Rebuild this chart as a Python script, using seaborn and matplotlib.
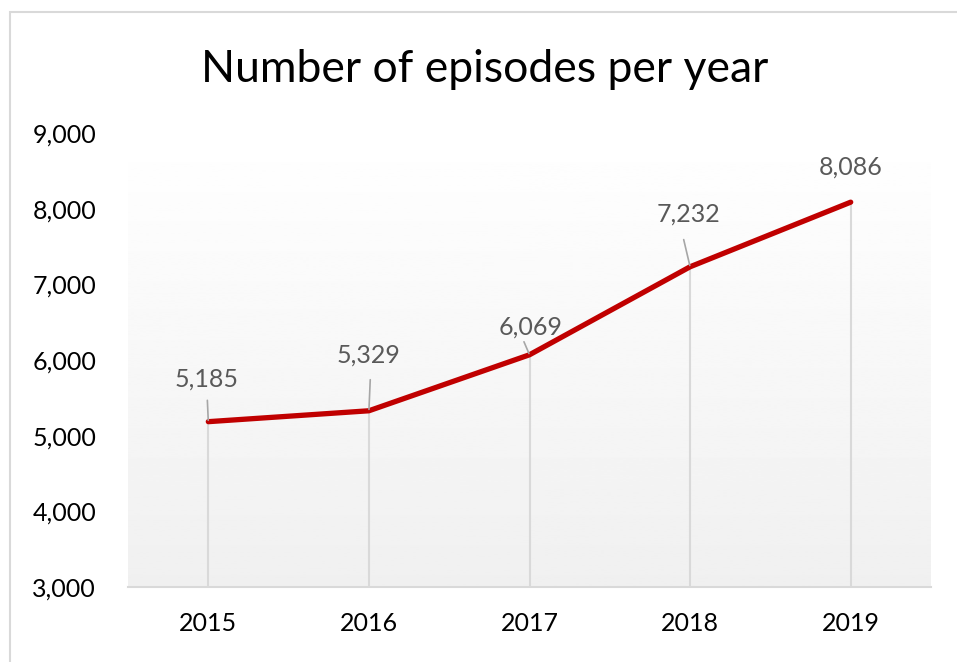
import seaborn as sns
import matplotlib.pyplot as plt
import matplotlib.patches as mpatches
import numpy as np
import pandas as pd

# data
years = ['2015', '2016', '2017', '2018', '2019']
episodes = [5185, 5329, 6069, 7232, 8086]
y_ticks = [3000, 4000, 5000, 6000, 7000, 8000, 9000]

# label offsets (points) relative to each point, leader start on the label and gap
label_offsets = [(-1, 31), (0, 40), (1, 20), (-1.5, 38), (0, 25)]
leader_relpos = [(0.5, 0), (0.53, 0), (0.37, 0), (0.38, 0), None]
leader_gap = [5, 7, 0, 8, 0]

sns.set_style('white')
plt.rcParams['font.family'] = ['Lato', 'DejaVu Sans']

df = pd.DataFrame({'pos': np.arange(len(years)), 'episodes': episodes})

fig = plt.figure(figsize=(9.57, 6.62), dpi=100)
ax = fig.add_axes([128 / 957, 1 - 587 / 662, 803 / 957, 454 / 662])

# gradient background like the excel plot area
grad = np.linspace(1.0, 0.94, 256).reshape(-1, 1)
ax.imshow(grad, extent=[-0.5, 4.5, 3000, 9000], aspect='auto', cmap='gray',
          vmin=0, vmax=1, zorder=0, origin='upper')

# drop lines
ax.vlines(df['pos'], 3000, df['episodes'], color='#d9d9d9', lw=1.5, zorder=1)

sns.lineplot(data=df, x='pos', y='episodes', color='#c00000', lw=3.8, ax=ax,
             zorder=3, solid_capstyle='round')

for i, v in enumerate(episodes):
    dx, dy = label_offsets[i]
    arrow = None
    if leader_relpos[i] is not None:
        arrow = dict(arrowstyle='-', color='#a6a6a6', lw=1.2, relpos=leader_relpos[i],
                     shrinkA=leader_gap[i], shrinkB=1)
    ax.annotate(f'{v:,}', xy=(i, v), xytext=(dx, dy), textcoords='offset points',
                ha='center', va='center', fontsize=18, color='#595959',
                arrowprops=arrow, zorder=4)

ax.set_xlim(-0.5, 4.5)
ax.set_ylim(3000, 9000)
ax.set_xticks(range(len(years)))
ax.set_xticklabels(years)
ax.set_yticks(y_ticks)
ax.set_yticklabels([f'{t:,}' for t in y_ticks])
ax.tick_params(axis='both', length=0, labelsize=18, colors='black')
ax.tick_params(axis='y', pad=23)
ax.tick_params(axis='x', pad=18)
ax.set_xlabel('')
ax.set_ylabel('')
for s in ['top', 'right', 'left']:
    ax.spines[s].set_visible(False)
ax.spines['bottom'].set_color('#d9d9d9')
ax.spines['bottom'].set_linewidth(1.5)
ax.spines['bottom'].set_zorder(2)

fig.text(485 / 957, 1 - 82 / 662, 'Number of episodes per year', ha='center',
         va='baseline', fontsize=32, color='black')

# chart border
fig.patches.append(mpatches.Rectangle((10 / 957, -0.05), 1.2, 1 - 12 / 662 + 0.05,
                                      transform=fig.transFigure, fill=False,
                                      edgecolor='#d9d9d9', lw=1.5))

fig.savefig('out.png', dpi=100)
